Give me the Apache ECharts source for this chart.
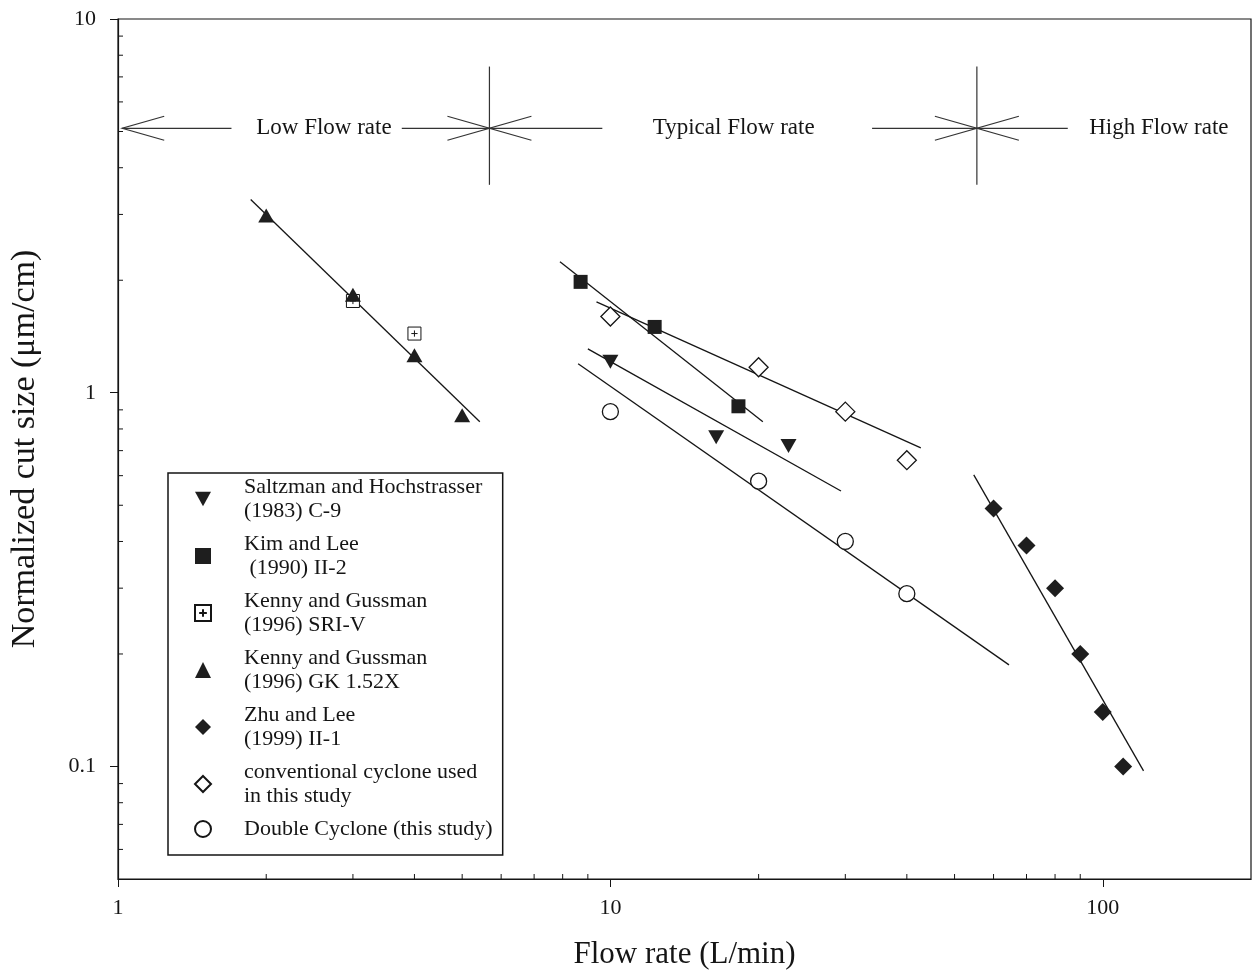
<!DOCTYPE html>
<html>
<head>
<meta charset="utf-8">
<title>Normalized cut size vs flow rate</title>
<script src="https://cdn.jsdelivr.net/npm/echarts@6/dist/echarts.min.js"></script>
<style>
  html, body { margin: 0; padding: 0; background: #fff; }
  #chart { width: 1254px; height: 976px; }
</style>
</head>
<body>
<div id="chart"></div>
<script>
// ---- data ----
var saltzmanX = [10, 16.4, 23];
var saltzmanY = [1.21, 0.76, 0.72];
var saltzmanFitX = [9.0, 29.4];
var saltzmanFitY = [1.31, 0.546];

var kimX = [8.7, 12.3, 18.2];
var kimY = [1.98, 1.50, 0.92];
var kimFitX = [7.9, 20.4];
var kimFitY = [2.24, 0.836];

var sriX = [3, 4];
var sriY = [1.76, 1.44];

var gkX = [2, 3, 4, 5];
var gkY = [2.98, 1.83, 1.26, 0.87];
var gkFitX = [1.86, 5.43];
var gkFitY = [3.29, 0.836];

var zhuX = [60, 70, 80, 90, 100, 110];
var zhuY = [0.49, 0.39, 0.30, 0.20, 0.14, 0.10];
var zhuFitX = [54.7, 121];
var zhuFitY = [0.603, 0.0973];

var convX = [10, 20, 30, 40];
var convY = [1.60, 1.17, 0.89, 0.66];
var convFitX = [9.37, 42.7];
var convFitY = [1.75, 0.712];

var dblX = [10, 20, 30, 40];
var dblY = [0.89, 0.58, 0.40, 0.29];
var dblFitX = [8.6, 64.5];
var dblFitY = [1.196, 0.187];

var seriesNames = [
  'Saltzman and Hochstrasser\n(1983) C-9',
  'Kim and Lee\n (1990) II-2',
  'Kenny and Gussman\n(1996) SRI-V',
  'Kenny and Gussman\n(1996) GK 1.52X',
  'Zhu and Lee\n(1999) II-1',
  'conventional cyclone used\nin this study',
  'Double Cyclone (this study)'
];

// flow rate regions drawn at the top
var regionLabels = ['Low Flow rate', 'Typical Flow rate', 'High Flow rate'];
var regionLabelX = [2.62, 17.8, 130];
var arrowY = 5.1;
// [from, to, tip side: 0 = left end, 1 = right end]
var arrowSegs = [[1.02, 1.7, 0], [3.77, 5.68, 1], [5.68, 9.63, 0], [34, 55.5, 1], [55.5, 84.9, 0]];
var dividerX = [5.68, 55.5];
var dividerY = [3.6, 7.46];

// axis ranges and minor ticks
var xMin = 1, xMax = 200, yMin = 0.05, yMax = 10;
var xMinorTicks = [2, 3, 4, 5, 6, 7, 8, 9, 20, 30, 40, 50, 60, 70, 80, 90];
var yMinorTicks = [0.06, 0.07, 0.08, 0.09, 0.2, 0.3, 0.4, 0.5, 0.6, 0.7, 0.8, 0.9, 2, 3, 4, 5, 6, 7, 8, 9];

function pairs(xs, ys) {
  return xs.map(function (x, i) { return [x, ys[i]]; });
}

var serif = '"Liberation Serif", "DejaVu Serif", serif';
var ink = '#151515';
var fillDark = '#1e1e1e';
var fitStyle = { color: ink, width: 1.3 };

function fit(name, xs, ys) {
  return {
    name: name, type: 'line', data: pairs(xs, ys), symbol: 'none',
    lineStyle: fitStyle, silent: true, z: 2
  };
}

var chart = echarts.init(document.getElementById('chart'));

var option = {
  animation: false,
  backgroundColor: '#fff',
  grid: { left: 118, right: 3, top: 19, bottom: 97, show: true, borderColor: ink, borderWidth: 1.2 },
  xAxis: {
    type: 'log', logBase: 10, min: xMin, max: xMax,
    name: 'Flow rate (L/min)', nameLocation: 'middle', nameGap: 60,
    nameTextStyle: { fontFamily: serif, fontSize: 31, color: ink },
    axisLine: { lineStyle: { color: ink, width: 1.2 } },
    axisTick: { inside: false, length: 8, lineStyle: { color: ink } },
    axisLabel: { fontFamily: serif, fontSize: 22, color: ink, margin: 18, showMaxLabel: false },
    splitLine: { show: false }
  },
  yAxis: {
    type: 'log', logBase: 10, min: yMin, max: yMax,
    name: 'Normalized cut size (\u03bcm/cm)', nameLocation: 'middle', nameGap: 76,
    nameTextStyle: { fontFamily: serif, fontSize: 34, color: ink },
    axisLine: { lineStyle: { color: ink, width: 1.2 } },
    axisTick: { inside: false, length: 8, lineStyle: { color: ink } },
    axisLabel: { fontFamily: serif, fontSize: 22, color: ink, margin: 22, showMinLabel: false },
    splitLine: { show: false }
  },
  legend: {
    orient: 'vertical', left: 168, top: 473,
    padding: [2, 10, 14, 26],
    itemGap: 9, itemWidth: 16, itemHeight: 16,
    borderColor: ink, borderWidth: 1.5, borderRadius: 0,
    selectedMode: false,
    textStyle: { fontFamily: serif, fontSize: 22, lineHeight: 24, color: ink, padding: [0, 0, 0, 28] },
    data: seriesNames
  },
  series: [
    {
      name: seriesNames[0], type: 'scatter', data: pairs(saltzmanX, saltzmanY),
      symbol: 'path://M0,0L10,0L5,9Z', symbolSize: [16, 14], symbolKeepAspect: false,
      itemStyle: { color: fillDark, opacity: 1 }, z: 5
    },
    {
      name: seriesNames[1], type: 'scatter', data: pairs(kimX, kimY),
      symbol: 'rect', symbolSize: 14, itemStyle: { color: fillDark, opacity: 1 }, z: 5
    },
    {
      name: seriesNames[2], type: 'scatter', data: pairs(sriX, sriY),
      symbol: 'path://M0,0H10V10H0Z M5,2.6V7.4 M2.6,5H7.4', symbolSize: 13,
      itemStyle: { color: '#fff', borderColor: ink, borderWidth: 1, opacity: 1 }, z: 4
    },
    {
      name: seriesNames[3], type: 'scatter', data: pairs(gkX, gkY),
      symbol: 'triangle', symbolSize: [16, 14], itemStyle: { color: fillDark, opacity: 1 }, z: 5
    },
    {
      name: seriesNames[4], type: 'scatter', data: pairs(zhuX, zhuY),
      symbol: 'diamond', symbolSize: 18, itemStyle: { color: fillDark, opacity: 1 }, z: 5
    },
    {
      name: seriesNames[5], type: 'scatter', data: pairs(convX, convY),
      symbol: 'diamond', symbolSize: 19,
      itemStyle: { color: '#fff', borderColor: ink, borderWidth: 1.3, opacity: 1 }, z: 5
    },
    {
      name: seriesNames[6], type: 'scatter', data: pairs(dblX, dblY),
      symbol: 'circle', symbolSize: 16,
      itemStyle: { color: '#fff', borderColor: ink, borderWidth: 1.3, opacity: 1 }, z: 5
    },
    fit('fitSaltzman', saltzmanFitX, saltzmanFitY),
    fit('fitKim', kimFitX, kimFitY),
    fit('fitGK', gkFitX, gkFitY),
    fit('fitZhu', zhuFitX, zhuFitY),
    fit('fitConv', convFitX, convFitY),
    fit('fitDouble', dblFitX, dblFitY),
    {
      // minor ticks on the x axis (inside)
      name: 'xMinor', type: 'custom', silent: true, z: 1,
      data: xMinorTicks.map(function (v) { return [v, yMin]; }),
      renderItem: function (params, api) {
        var p = api.coord([api.value(0), api.value(1)]);
        return { type: 'line', shape: { x1: p[0], y1: p[1], x2: p[0], y2: p[1] - 5 },
                 style: { stroke: ink, lineWidth: 1 } };
      }
    },
    {
      // minor ticks on the y axis (inside)
      name: 'yMinor', type: 'custom', silent: true, z: 1,
      data: yMinorTicks.map(function (v) { return [xMin, v]; }),
      renderItem: function (params, api) {
        var p = api.coord([api.value(0), api.value(1)]);
        return { type: 'line', shape: { x1: p[0], y1: p[1], x2: p[0] + 5, y2: p[1] },
                 style: { stroke: ink, lineWidth: 1 } };
      }
    },
    {
      // region arrows
      name: 'arrows', type: 'custom', silent: true, z: 3,
      encode: { x: [0, 1] },
      data: arrowSegs,
      renderItem: function (params, api) {
        var a = api.coord([api.value(0), arrowY]);
        var b = api.coord([api.value(1), arrowY]);
        var left = api.value(2) === 0;
        var tip = left ? a : b;
        var s = left ? 1 : -1;
        return {
          type: 'group',
          children: [
            { type: 'line', shape: { x1: a[0], y1: a[1], x2: b[0], y2: b[1] },
              style: { stroke: '#333', lineWidth: 1.2 } },
            { type: 'polyline',
              shape: { points: [[tip[0] + s * 42, tip[1] - 12], [tip[0], tip[1]], [tip[0] + s * 42, tip[1] + 12]] },
              style: { stroke: '#333', fill: null, lineWidth: 1.2 } }
          ]
        };
      }
    },
    {
      // region dividers
      name: 'dividers', type: 'custom', silent: true, z: 3,
      data: dividerX.map(function (v) { return [v, dividerY[0]]; }),
      renderItem: function (params, api) {
        var a = api.coord([api.value(0), dividerY[0]]);
        var b = api.coord([api.value(0), dividerY[1]]);
        return { type: 'line', shape: { x1: a[0], y1: a[1], x2: b[0], y2: b[1] },
                 style: { stroke: '#333', lineWidth: 1.2 } };
      }
    },
    {
      // region labels
      name: 'regionText', type: 'custom', silent: true, z: 3,
      data: regionLabelX.map(function (v, i) { return [v, arrowY, i]; }),
      renderItem: function (params, api) {
        var p = api.coord([api.value(0), api.value(1)]);
        return { type: 'text', x: p[0], y: p[1],
                 style: { text: regionLabels[api.value(2)], fill: ink,
                          font: '23px ' + serif, align: 'center', verticalAlign: 'middle' } };
      }
    }
  ]
};

chart.setOption(option);
</script>
</body>
</html>
